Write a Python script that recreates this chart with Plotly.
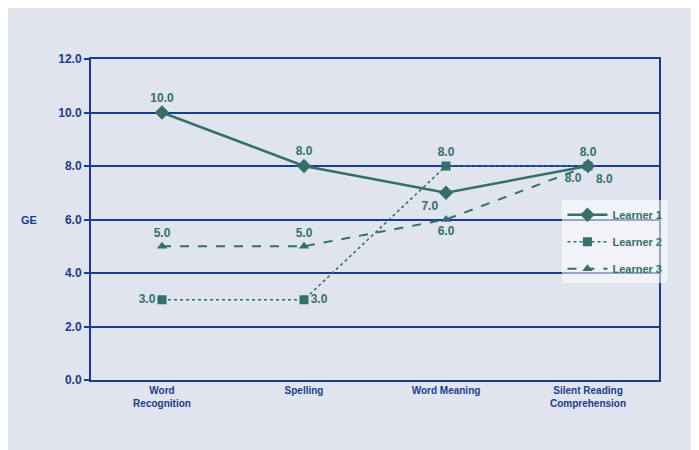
import plotly.graph_objects as go

categories = ["Word<br>Recognition", "Spelling", "Word Meaning", "Silent Reading<br>Comprehension"]
learner1 = [10.0, 8.0, 7.0, 8.0]
learner2 = [3.0, 3.0, 8.0, 8.0]
learner3 = [5.0, 5.0, 6.0, 8.0]
series_names = ["Learner 1", "Learner 2", "Learner 3"]
y_ticks = [0, 2, 4, 6, 8, 10, 12]

teal = "#356f6b"
navy = "#1b3c8c"
panel = "#dfe4ee"
label_font = dict(family="Liberation Sans, Arial", size=12, color=teal, weight="bold")

fig = go.Figure()
fig.add_trace(go.Scatter(
    x=categories, y=learner1, name=series_names[0], mode="lines+markers+text",
    legendgroup="g1",
    line=dict(color=teal, width=2.5, dash="solid"),
    marker=dict(symbol="diamond", size=11, color=teal),
    text=[f"{v:.1f}" for v in learner1],
    textposition=["top center", "top center", "bottom left", "bottom right"],
    textfont=label_font,
))
fig.add_trace(go.Scatter(
    x=categories, y=learner2, name=series_names[1], mode="lines+markers+text",
    legendgroup="g2",
    line=dict(color=teal, width=1.6, dash="dot"),
    marker=dict(symbol="square", size=9, color=teal),
    text=[f"{v:.1f}" for v in learner2],
    textposition=["middle left", "middle right", "top center", "top center"],
    textfont=label_font,
))
fig.add_trace(go.Scatter(
    x=categories, y=learner3, name=series_names[2], mode="lines+markers+text",
    legendgroup="g3",
    line=dict(color=teal, width=2, dash="dash"),
    marker=dict(symbol="triangle-up", size=9, color=teal),
    text=[f"{v:.1f}" for v in learner3],
    textposition=["top center", "top center", "bottom center", "bottom left"],
    textfont=label_font,
))

fig.add_annotation(text="GE", xref="paper", yref="paper", x=-0.11, y=0.5,
                   showarrow=False, xanchor="center", yanchor="middle",
                   font=dict(family="Liberation Sans, Arial", size=11, color=navy, weight="bold"))

fig.update_layout(
    width=699, height=450,
    margin=dict(l=83, r=48, t=51, b=78),
    paper_bgcolor=panel,
    plot_bgcolor=panel,
    showlegend=True,
    legend=dict(x=0.83, y=0.56, xanchor="left", yanchor="top",
                bgcolor="rgba(255,255,255,0.55)", borderwidth=0,
                font=dict(family="Liberation Sans, Arial", size=11, color=teal, weight="bold"),
                tracegroupgap=8, itemwidth=40),
    xaxis=dict(type="category", range=[-0.5, 3.5], showgrid=False,
               showline=True, mirror=True, linecolor=navy, linewidth=2,
               ticks="", tickfont=dict(family="Liberation Sans, Arial", size=10, color=navy, weight="bold")),
    yaxis=dict(range=[0, 12], tickvals=y_ticks, ticktext=[f"{v:.1f}" for v in y_ticks],
               showgrid=True, gridcolor=navy, gridwidth=2, zeroline=False,
               showline=True, mirror=True, linecolor=navy, linewidth=2,
               ticks="outside", ticklen=5, tickcolor=navy, tickwidth=1.5,
               tickfont=dict(family="Liberation Sans, Arial", size=12, color=navy, weight="bold")),
)

fig.write_html("out.html")
